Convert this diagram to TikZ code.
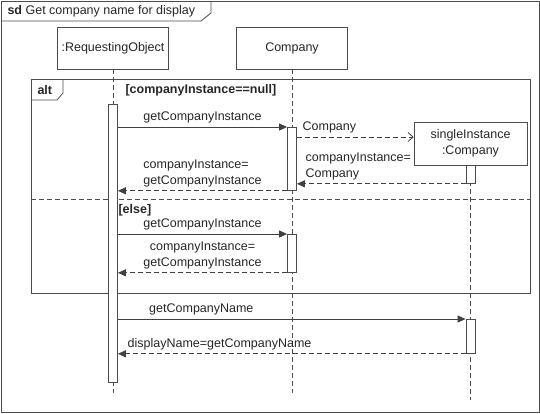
\documentclass[tikz,border=0pt]{standalone}
\usepackage{fontspec}
\setmainfont{Liberation Sans}
\usetikzlibrary{arrows.meta,positioning}

\begin{document}
\begin{tikzpicture}[x=1pt,y=-1pt,
    every node/.style={text=black!85,font=\fontsize{12.5}{16}\selectfont},
    frame/.style={draw=black!70,line width=0.8pt},
    head/.style={draw=black!70,line width=0.8pt,fill=white,minimum width=111pt,minimum height=42pt,inner sep=2pt},
    life/.style={draw=black!70,line width=0.8pt,dash pattern=on 5pt off 3pt},
    bar/.style={draw=black!70,line width=0.8pt,fill=white,minimum width=9pt,inner sep=0pt,anchor=north},
    call/.style={draw=black!75,line width=0.8pt,-{Triangle[length=8pt,width=7pt]}},
    reply/.style={call,dash pattern=on 5pt off 3pt},
    create/.style={draw=black!75,line width=0.8pt,dash pattern=on 5pt off 3pt,-{Straight Barb[length=5pt,width=9pt]}}]
  \useasboundingbox (0,0) rectangle (540,413);

  % Outer frame with its name tag
  \draw[frame] (1,1) rectangle (539,412);
  \draw[frame] (1,21) -- (201,21) -- (211,13) -- (211,1);
  \node[anchor=west] (sd) at (4,11) {\textbf{sd} Get company name for display};

  % Lifeline heads
  \node[head] (req) at (113,48) {:RequestingObject};
  \node[head] (comp) at (292,48) {Company};
  \node[head,minimum width=113pt,minimum height=43pt,align=center] (single) at (470.5,143.5) {singleInstance\\:Company};

  % Lifelines
  \coordinate (end) at (0,393);
  \coordinate (end2) at (0,400);
  \draw[life] (req) -- (req |- end);
  \draw[life] (comp) -- (comp |- end);
  \draw[life] (single) -- (single |- end2);

  % alt fragment with its two operands
  \draw[frame] (31,79) rectangle (530,293);
  \draw[frame] (31,100) -- (57,100) -- (63,93) -- (63,79);
  \node[anchor=west] (alt) at (34,90) {\textbf{alt}};
  \node[anchor=west] (guard1) at (122,90) {\textbf{[companyInstance==null]}};
  \draw[frame,dash pattern=on 5pt off 3pt] (31,199) -- (530,199);
  \node[anchor=west] (guard2) at (115,210) {\textbf{[else]}};

  % Activation bars
  \node[bar,minimum height=278pt] (req1) at (113,104) {};
  \node[bar,minimum height=63pt] (comp1) at (292,127) {};
  \node[bar,minimum height=18pt] (single1) at (470.5,165) {};
  \node[bar,minimum height=38pt] (comp2) at (292,234) {};
  \node[bar,minimum height=34pt] (single2) at (470.5,319) {};

  % Messages, first operand
  \coordinate (m2) at (0,137);
  \draw[call] (req1.east |- comp1.north) -- node[above] {getCompanyInstance} (comp1.north west);
  \draw[create] (comp1.east |- m2) -- node[pos=0,above right,xshift=2pt] {Company} (single.west |- m2);
  \draw[reply] (single1.south west) -- node[pos=1,above right,align=left,xshift=5pt] {companyInstance=\\Company} (comp1.east |- single1.south);
  \draw[reply] (comp1.south west) -- node[above,align=left] {companyInstance=\\getCompanyInstance} (req1.east |- comp1.south);

  % Messages, else operand
  \draw[call] (req1.east |- comp2.north) -- node[above] {getCompanyInstance} (comp2.north west);
  \draw[reply] (comp2.south west) -- node[above,align=center] {companyInstance=\\getCompanyInstance} (req1.east |- comp2.south);

  % Messages after the fragment
  \draw[call] (req1.east |- single2.north) -- node[pos=0.24,above] {getCompanyName} (single2.north west);
  \draw[reply] (single2.south west) -- node[pos=1,above right,xshift=6pt] {displayName=getCompanyName} (req1.east |- single2.south);
\end{tikzpicture}
\end{document}
